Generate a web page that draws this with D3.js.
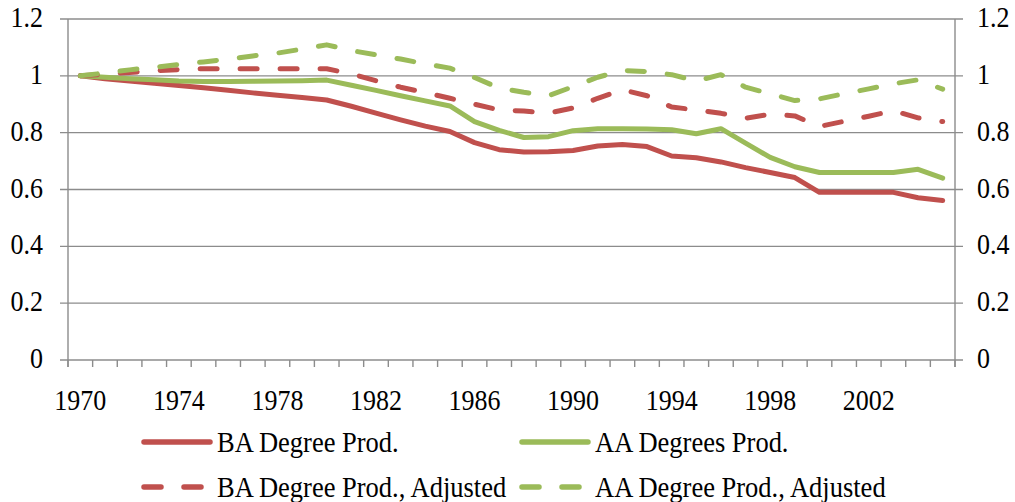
<!DOCTYPE html>
<html>
<head>
<meta charset="utf-8">
<script src="https://cdn.jsdelivr.net/npm/d3@7"></script>
<style>
  body { margin: 0; background: #fff; }
  svg { display: block; }
  text { font-family: "Liberation Serif", "Times New Roman", serif; fill: #000; }
</style>
</head>
<body>
<svg id="chart" width="1015" height="502"></svg>
<script>
var years = d3.range(1970, 2006)
var yTicks = [0, 0.2, 0.4, 0.6, 0.8, 1, 1.2]
var xLabelYears = [1970, 1974, 1978, 1982, 1986, 1990, 1994, 1998, 2002]

var baProd = [1.0, 0.99, 0.982, 0.974, 0.966, 0.958, 0.949, 0.94, 0.932, 0.924, 0.915,
    0.893, 0.869, 0.845, 0.823, 0.804,
    0.765, 0.74, 0.732, 0.733, 0.737, 0.753, 0.758, 0.751, 0.718, 0.712,
    0.697, 0.677, 0.66, 0.642, 0.59, 0.59, 0.59, 0.59, 0.571, 0.561]
var aaProd = [1.0, 0.995, 0.99, 0.986, 0.982, 0.98, 0.98, 0.981, 0.982, 0.983, 0.985,
    0.967, 0.949, 0.93, 0.912, 0.894,
    0.839, 0.808, 0.783, 0.786, 0.807, 0.814, 0.814, 0.813, 0.81, 0.796,
    0.814, 0.763, 0.713, 0.68, 0.66, 0.66, 0.66, 0.66, 0.671, 0.64]
var baAdj = [1.0, 1.006, 1.012, 1.018, 1.022, 1.025, 1.025, 1.025, 1.025, 1.025, 1.025,
    1.007, 0.983, 0.96, 0.941, 0.921,
    0.9, 0.88, 0.876, 0.869, 0.887, 0.921, 0.951, 0.93, 0.89, 0.88,
    0.868, 0.851, 0.865, 0.859, 0.822, 0.84, 0.858, 0.877, 0.852, 0.839]
var aaAdj = [1.0, 1.01, 1.021, 1.03, 1.04, 1.049, 1.059, 1.07, 1.08, 1.094, 1.109,
    1.089, 1.074, 1.059, 1.042, 1.027,
    0.994, 0.957, 0.942, 0.93, 0.962, 0.995, 1.019, 1.015, 1.004, 0.982,
    1.004, 0.96, 0.937, 0.913, 0.919, 0.937, 0.954, 0.972, 0.986, 0.953]

var seriesNames = ["BA Degree Prod.", "AA Degrees Prod.", "BA Degree Prod., Adjusted", "AA Degree Prod., Adjusted"]
var seriesValues = [baProd, aaProd, baAdj, aaAdj]
var seriesColors = ["#C0504D", "#9BBB59", "#C0504D", "#9BBB59"]
var seriesDashed = [false, false, true, true]

var plotBox = { left: 68, right: 955, top: 19, bottom: 360 }
var gridColor = "#8c8c8c"
var fontSize = 26
var stretch = 1.14

var svg = d3.select("#chart")

var x = d3.scaleBand().domain(years).range([plotBox.left, plotBox.right]).padding(0)
var y = d3.scaleLinear().domain([0, 1.2]).range([plotBox.bottom, plotBox.top])

function addText(g, str, px, py, anchor, size) {
    return g.append("text")
        .attr("transform", `translate(${px},${py}) scale(1,${stretch})`)
        .attr("text-anchor", anchor)
        .style("font-size", (size || fontSize) + "px")
        .text(str)
}

// gridlines + y ticks on both sides
var grid = svg.append("g")
grid.selectAll("line.grid")
    .data(yTicks)
    .enter()
    .append("line")
    .attr("x1", plotBox.left - 8)
    .attr("x2", plotBox.right + 8)
    .attr("y1", d => y(d))
    .attr("y2", d => y(d))
    .attr("stroke", gridColor)
    .attr("stroke-width", 1.4)

// axis lines
grid.append("line").attr("x1", plotBox.left).attr("x2", plotBox.left)
    .attr("y1", plotBox.top).attr("y2", plotBox.bottom + 7)
    .attr("stroke", gridColor).attr("stroke-width", 1.4)
grid.append("line").attr("x1", plotBox.right).attr("x2", plotBox.right)
    .attr("y1", plotBox.top).attr("y2", plotBox.bottom + 7)
    .attr("stroke", gridColor).attr("stroke-width", 1.4)

// x ticks at category boundaries
var boundaries = years.map(d => x(d)).concat([x.range()[1]])
grid.selectAll("line.xtick")
    .data(boundaries)
    .enter()
    .append("line")
    .attr("x1", d => d)
    .attr("x2", d => d)
    .attr("y1", plotBox.bottom)
    .attr("y2", plotBox.bottom + 7)
    .attr("stroke", gridColor)
    .attr("stroke-width", 1.4)

// y labels
var labels = svg.append("g")
yTicks.forEach(function (t) {
    var s = d3.format("")(t)
    addText(labels, s, 43, y(t) + 8, "end")
    addText(labels, s, 977, y(t) + 8, "start")
})

// x labels
xLabelYears.forEach(function (yr) {
    addText(labels, yr, x(yr) + x.bandwidth() / 2, 410, "middle")
})

// series
var line = d3.line()
    .x((d, i) => x(years[i]) + x.bandwidth() / 2)
    .y(d => y(d))

var plot = svg.append("g")
seriesValues.forEach(function (vals, i) {
    plot.append("path")
        .datum(vals)
        .attr("d", line)
        .attr("fill", "none")
        .attr("stroke", seriesColors[i])
        .attr("stroke-width", 5)
        .attr("stroke-linejoin", "round")
        .attr("stroke-linecap", "round")
        .attr("stroke-dasharray", seriesDashed[i] ? "17,23" : null)
})

// legend
var legendPos = [[144, 442], [522, 442], [144, 487], [522, 487]]
var legend = svg.append("g")
seriesNames.forEach(function (name, i) {
    var p = legendPos[i]
    legend.append("line")
        .attr("x1", p[0])
        .attr("x2", p[0] + 66)
        .attr("y1", p[1])
        .attr("y2", p[1])
        .attr("stroke", seriesColors[i])
        .attr("stroke-width", 5.5)
        .attr("stroke-linecap", "round")
        .attr("stroke-dasharray", seriesDashed[i] ? "17,23" : null)
    addText(legend, name, p[0] + 73, p[1] + 10, "start", 26.5)
})
</script>
</body>
</html>
